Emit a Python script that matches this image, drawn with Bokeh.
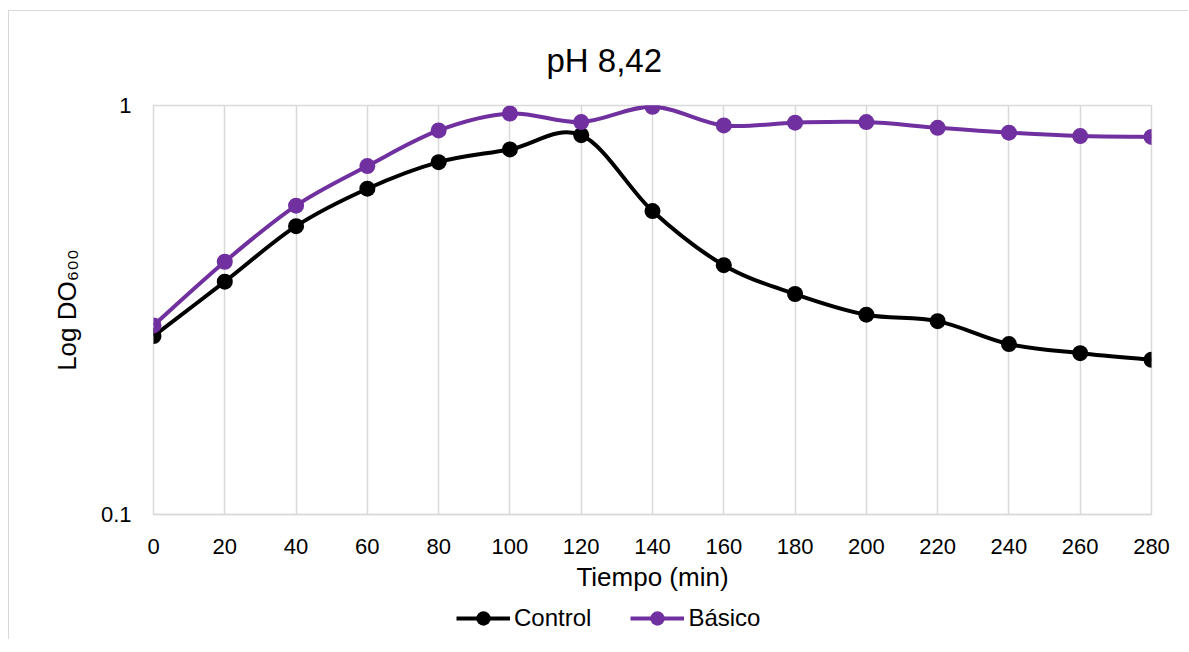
import math
from bokeh.plotting import figure
from bokeh.layouts import column
from bokeh.models import (Range1d, FixedTicker, CustomJSTickFormatter, Legend,
                          LegendItem, ColumnDataSource)
from bokeh.embed import file_html
from bokeh.resources import INLINE

# ---- data ----
tiempo = [0, 20, 40, 60, 80, 100, 120, 140, 160, 180, 200, 220, 240, 260, 280]
control = [0.273, 0.371, 0.507, 0.626, 0.727, 0.781, 0.846, 0.552, 0.407, 0.346,
           0.308, 0.297, 0.261, 0.248, 0.239]
basico = [0.290, 0.415, 0.569, 0.711, 0.869, 0.956, 0.911, 0.993, 0.894, 0.908,
          0.911, 0.882, 0.858, 0.842, 0.838]
x_ticks = [0, 20, 40, 60, 80, 100, 120, 140, 160, 180, 200, 220, 240, 260, 280]
y_ticks = [0.1, 1]
title_text = "pH 8,42"
x_title = "Tiempo (min)"
y_title = "Log DO\u2086\u2080\u2080"
series_names = ["Control", "Básico"]
series_colors = ["#000000", "#7030A0"]

FONT = "Liberation Sans"
GRID = "#d9d9d9"

# page offsets of the chart border (left / top), frame position on page
OX, OY, BW = 8, 10, 1.5
W = 1189 - OX - 2
PAGE_FL, PAGE_FR, PAGE_FT, PAGE_FB = 154, 1152, 106, 515
MAIN_BOTTOM = 600          # page y where the main figure ends
LEG_H = 640 - MAIN_BOTTOM  # height of the legend strip

FL = PAGE_FL - OX - BW
FR = PAGE_FR - OX - BW
FT = PAGE_FT - OY - BW
FB = PAGE_FB - OY - BW

p = figure(width=W, frame_width=int(round(FR - FL)), frame_height=int(round(FB - FT)),
           output_backend="svg", toolbar_location=None,
           y_axis_type="log", x_range=Range1d(0, 280), y_range=Range1d(0.1, 1),
           min_border_left=int(round(FL)), min_border_right=int(round(W - FR)),
           min_border_top=int(round(FT)), min_border_bottom=MAIN_BOTTOM - PAGE_FB)
p.background_fill_color = "white"
p.border_fill_color = "white"
p.outline_line_color = GRID
p.outline_line_width = 1.5

# title
p.title.text = title_text
p.title.text_font = FONT
p.title.text_font_size = "33px"
p.title.text_font_style = "normal"
p.title.text_color = "#000000"
p.title.align = "left"
p.title.offset = 393
p.title.standoff = 54

# grid
p.xgrid.ticker = FixedTicker(ticks=x_ticks)
p.xgrid.grid_line_color = GRID
p.xgrid.grid_line_width = 1.5
p.ygrid.grid_line_color = None

# axes
p.xaxis.ticker = FixedTicker(ticks=x_ticks)
p.xaxis.axis_line_color = GRID
p.xaxis.axis_line_width = 1.5
p.xaxis.major_tick_line_color = None
p.xaxis.minor_tick_line_color = None
p.xaxis.major_label_text_font = FONT
p.xaxis.major_label_text_font_size = "22px"
p.xaxis.major_label_text_color = "#000000"
p.xaxis.major_label_standoff = 18
p.xaxis.axis_label = x_title
p.xaxis.axis_label_text_font = FONT
p.xaxis.axis_label_text_font_size = "26px"
p.xaxis.axis_label_text_font_style = "normal"
p.xaxis.axis_label_text_color = "#000000"
p.xaxis.axis_label_standoff = 5

p.yaxis.ticker = FixedTicker(ticks=y_ticks, minor_ticks=[])
p.yaxis.formatter = CustomJSTickFormatter(code="return tick.toString();")
p.yaxis.axis_line_color = None
p.yaxis.major_tick_line_color = None
p.yaxis.minor_tick_line_color = None
p.yaxis.major_label_text_font = FONT
p.yaxis.major_label_text_font_size = "22px"
p.yaxis.major_label_text_color = "#000000"
p.yaxis.major_label_standoff = 16
p.yaxis.axis_label = y_title
p.yaxis.axis_label_text_font = FONT
p.yaxis.axis_label_text_font_size = "26px"
p.yaxis.axis_label_text_font_style = "normal"
p.yaxis.axis_label_text_color = "#000000"
p.yaxis.axis_label_standoff = 16


def smooth_segments(xs, ys):
    """Excel-style smoothed line: cubic Bezier with control points from neighbours
    (in screen space, i.e. log space for y)."""
    ly = [math.log10(v) for v in ys]
    n = len(xs)
    seg = dict(x0=[], y0=[], x1=[], y1=[], cx0=[], cy0=[], cx1=[], cy1=[])
    for i in range(n - 1):
        i0 = max(i - 1, 0)
        i3 = min(i + 2, n - 1)
        c0x = xs[i] + (xs[i + 1] - xs[i0]) / 6.0
        c0y = ly[i] + (ly[i + 1] - ly[i0]) / 6.0
        c1x = xs[i + 1] - (xs[i3] - xs[i]) / 6.0
        c1y = ly[i + 1] - (ly[i3] - ly[i]) / 6.0
        seg["x0"].append(xs[i]); seg["y0"].append(ys[i])
        seg["x1"].append(xs[i + 1]); seg["y1"].append(ys[i + 1])
        seg["cx0"].append(c0x); seg["cy0"].append(10 ** c0y)
        seg["cx1"].append(c1x); seg["cy1"].append(10 ** c1y)
    return ColumnDataSource(seg)


for ys, col in zip([control, basico], series_colors):
    src = smooth_segments(tiempo, ys)
    p.bezier(x0="x0", y0="y0", x1="x1", y1="y1", cx0="cx0", cy0="cy0",
             cx1="cx1", cy1="cy1", source=src, line_color=col, line_width=4)
    p.scatter(tiempo, ys, size=16, marker="circle", fill_color=col,
              line_color=col, line_width=0)

# ---- legend strip (separate figure below the chart, same styling) ----
lg = figure(width=W, height=LEG_H, output_backend="svg", toolbar_location=None,
            x_range=Range1d(0, 1), y_range=Range1d(0, 1),
            min_border_left=0, min_border_right=0, min_border_top=0, min_border_bottom=0)
lg.axis.visible = False
lg.grid.visible = False
lg.outline_line_color = None
lg.background_fill_color = "white"
lg.border_fill_color = "white"

items = []
for name, col in zip(series_names, series_colors):
    # legend-only renderers, placed outside the strip's visible range
    r1 = lg.line(x=[-5, -4], y=[-5, -5], line_color=col, line_width=4)
    r2 = lg.scatter(x=[-5], y=[-5], size=16, marker="circle", fill_color=col,
                    line_color=col, line_width=0)
    items.append(LegendItem(label=name, renderers=[r1, r2]))

GH = 36
leg_top_in_strip = 622 - MAIN_BOTTOM - GH / 2 - 3
legend = Legend(items=items, orientation="horizontal",
                location=(457 - PAGE_FL, LEG_H - leg_top_in_strip - GH),
                padding=0, margin=0, spacing=39, glyph_width=54, glyph_height=GH,
                label_height=GH, label_standoff=4, border_line_color=None,
                background_fill_alpha=0, label_text_font=FONT,
                label_text_font_size="24px", label_text_color="#000000")
lg.add_layout(legend, "center")

layout = column(p, lg, spacing=0, margin=(OY, 0, 0, OX),
                styles={"border-left": "1.5px solid #d9d9d9",
                        "border-top": "1.5px solid #d9d9d9"})

open("out.html", "w").write(file_html(layout, INLINE))
